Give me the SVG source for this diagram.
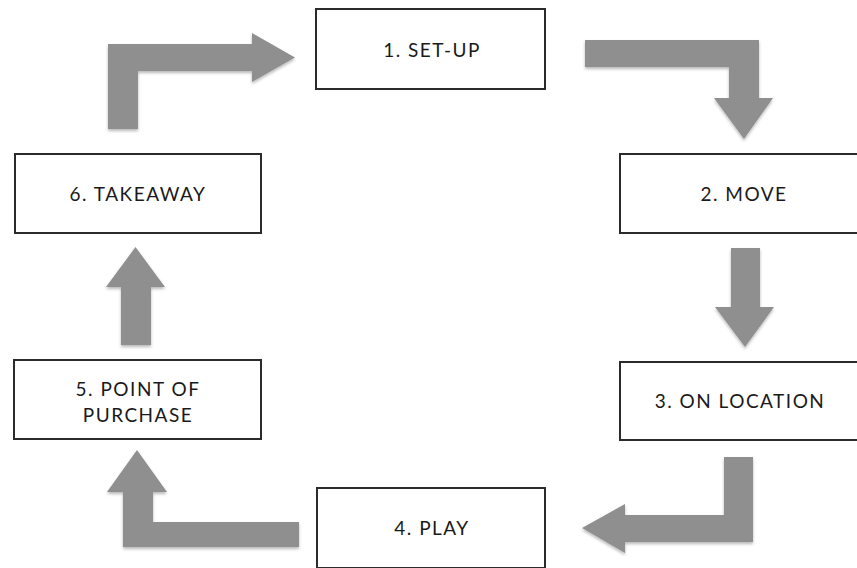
<svg xmlns="http://www.w3.org/2000/svg" width="857" height="568" viewBox="0 0 857 568">
  <defs>
    <filter id="soft" x="-20%" y="-20%" width="140%" height="150%">
      <feDropShadow dx="0" dy="2" stdDeviation="1.8" flood-color="#000" flood-opacity="0.28"/>
    </filter>
    <style>
      .box { fill: #ffffff; stroke: #2b2b2b; stroke-width: 2; }
      .label { font-family: Lato, "Open Sans", "Liberation Sans", sans-serif; font-size: 19px; letter-spacing: 1.5px; fill: #1a1a1a; text-anchor: middle; }
      .flow { fill: #8f8f8f; filter: url(#soft); }
    </style>
  </defs>
  <rect width="857" height="568" fill="#ffffff"/>

  <!-- block arrows between the stages -->
  <g id="connectors">
    <polygon class="flow" points="108,129 108,44 252,44 252,33 295,57.5 252,82 252,71 138,71 138,129"/>
    <polygon class="flow" points="585,40 759,40 759,98 773,98 744,139 714,98 729,98 729,67 585,67"/>
    <polygon class="flow" points="731,248 760,248 760,307 774,307 745,347 715,307 731,307"/>
    <polygon class="flow" points="724,457 753,457 753,542 625,542 625,553 582,528 625,504 625,515 724,515"/>
    <polygon class="flow" points="137,450 167,492 153,492 153,522 299,522 299,547 123,547 123,492 107,492"/>
    <polygon class="flow" points="121,345 121,287 106,287 135.5,247 165,287 151,287 151,345"/>
  </g>

  <g id="setup">
    <rect class="box" x="316" y="9" width="229" height="80"/>
    <text class="label" x="432" y="57">1. SET-UP</text>
  </g>
  <g id="move">
    <rect class="box" x="620" y="154" width="250" height="79"/>
    <text class="label" x="744" y="201">2. MOVE</text>
  </g>
  <g id="on-location">
    <rect class="box" x="620" y="362" width="250" height="78"/>
    <text class="label" x="740" y="408">3. ON LOCATION</text>
  </g>
  <g id="play">
    <rect class="box" x="317" y="488" width="228" height="80"/>
    <text class="label" x="432" y="535">4. PLAY</text>
  </g>
  <g id="point-of-purchase">
    <rect class="box" x="14" y="360" width="247" height="79"/>
    <text class="label" x="138" y="396">5. POINT OF</text>
    <text class="label" x="138" y="422">PURCHASE</text>
  </g>
  <g id="takeaway">
    <rect class="box" x="15" y="154" width="246" height="79"/>
    <text class="label" x="138" y="201">6. TAKEAWAY</text>
  </g>
</svg>
